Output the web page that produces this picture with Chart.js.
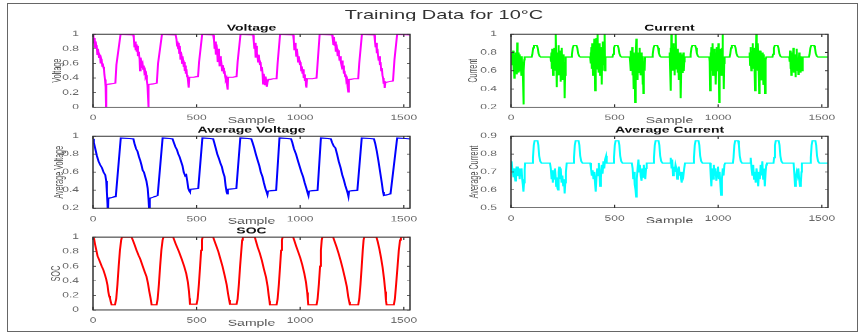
<!DOCTYPE html>
<html>
<head>
<meta charset="utf-8">
<script src="https://cdn.jsdelivr.net/npm/chart.js@4.4.0/dist/chart.umd.min.js"></script>
<style>
  html, body { margin: 0; padding: 0; background: #fff; }
  body { width: 867px; height: 334px; position: relative; overflow: hidden; font-family: "Liberation Sans", Arial, sans-serif; }
  #frame { position: absolute; left: 7px; top: 3px; width: 851px; height: 329px; border: 1.5px solid #666; box-sizing: border-box; }
  /* the source figure is squashed vertically, so draw tall and squash */
  #fig { position: absolute; left: 0; top: 0; width: 867px; height: 557px; transform: scaleY(0.6); transform-origin: 0 0; }
  #title { position: absolute; left: 0; width: 888px; top: 12px; text-align: center; font-size: 20px; line-height: 24px; color: #333; }
  .cell { position: absolute; }
</style>
</head>
<body>
<div id="frame"></div>
<div id="fig">
  <div id="title"></div>
</div>
<script>
const figureTitle = "Training Data for 10°C";
const xLabel = "Sample";
const xTicks = [0, 500, 1000, 1500];
const voltTicks = [0, 0.2, 0.4, 0.6, 0.8, 1];
const currTicks = [0.2, 0.4, 0.6, 0.8, 1];
const avgVoltTicks = [0.2, 0.4, 0.6, 0.8, 1];
const avgCurrTicks = [0.5, 0.6, 0.7, 0.8, 0.9];
const socTicks = [0, 0.2, 0.4, 0.6, 0.8, 1];

// Voltage (normalised)
const voltX = [
  0,2,5,8,10,13,15,18,21,24,26,29,31,34,37,40,42,45,47,50,53,55,58,61,63,
  64,85,108,113,133,194,
  197,200,203,206,209,211,214,217,219,222,225,227,230,233,236,239,242,245,248,251,254,257,260,263,266,267,
  269,290,308,314,333,399,
  403,406,408,411,414,416,419,422,424,427,430,432,435,438,440,443,446,448,451,454,456,459,461,463,
  465,485,507,512,527,580,
  584,587,590,593,596,599,602,605,608,611,614,617,620,623,626,629,632,635,638,641,644,647,650,
  652,675,693,698,712,773,
  776,779,782,785,788,791,794,797,800,803,806,809,812,815,818,821,824,827,830,833,836,839,842,846,
  850,870,886,891,903,966,
  969,972,975,978,981,984,987,990,993,996,999,1002,1005,1008,1011,1014,1017,1020,1023,1026,1028,1030,
  1033,1060,1079,1084,1094,1154,
  1157,1160,1163,1166,1169,1172,1175,1178,1181,1184,1187,1190,1193,1196,1199,1202,1205,1208,1211,1214,1217,1220,1223,1226,1229,1232,
  1235,1260,1280,1285,1298,1358,
  1361,1364,1367,1370,1373,1376,1379,1382,1385,1388,1391,1394,1397,1400,1403,1406,1408,
  1411,1430,1448,1455,1468,1530
];
const voltY = [
  1,0.97,0.88,0.95,0.82,0.9,0.85,0.84,0.72,0.8,0.75,0.68,0.72,0.7,0.6,0.66,0.64,0.56,0.6,0.55,0.52,0.45,0.38,0.28,0,
  0.31,0.32,0.33,0.58,1,0.99,
  0.95,0.82,0.9,0.78,0.86,0.76,0.84,0.7,0.76,0.72,0.66,0.5,0.68,0.62,0.58,0.6,0.52,0.57,0.48,0.5,0.42,0.44,0.36,0.3,0.12,0,
  0.31,0.32,0.33,0.6,1,0.99,
  0.93,0.84,0.9,0.8,0.88,0.74,0.84,0.66,0.76,0.72,0.6,0.7,0.64,0.55,0.62,0.5,0.57,0.46,0.52,0.42,0.44,0.35,0.4,0.27,
  0.41,0.41,0.42,0.62,1,0.99,
  0.92,0.8,0.9,0.72,0.86,0.78,0.62,0.8,0.74,0.56,0.7,0.66,0.6,0.5,0.58,0.54,0.46,0.5,0.42,0.38,0.4,0.3,0.24,
  0.41,0.41,0.42,0.62,1,0.99,
  0.9,0.8,0.88,0.68,0.84,0.74,0.7,0.62,0.72,0.64,0.58,0.62,0.5,0.55,0.48,0.32,0.46,0.4,0.3,0.42,0.36,0.28,0.34,0.38,
  0.38,0.39,0.39,0.6,1,0.99,
  0.92,0.78,0.88,0.82,0.7,0.8,0.72,0.62,0.7,0.64,0.58,0.62,0.5,0.56,0.46,0.52,0.4,0.45,0.36,0.4,0.3,0.27,
  0.39,0.39,0.4,0.6,1,0.99,
  0.94,0.86,0.96,0.84,0.9,0.76,0.86,0.8,0.7,0.78,0.72,0.64,0.7,0.62,0.58,0.64,0.52,0.57,0.46,0.5,0.42,0.45,0.36,0.38,0.28,0.21,
  0.38,0.39,0.39,0.6,1,0.99,
  0.9,0.82,0.88,0.74,0.8,0.7,0.64,0.7,0.58,0.62,0.5,0.54,0.44,0.4,0.32,0.36,0.26,
  0.34,0.35,0.36,0.65,1,0.99
];

// Current (normalised)
const currX = [
  0,2,4,6,8,10,12,14,16,18,20,22,24,26,28,30,32,34,36,38,40,42,44,46,48,50,52,54,56,58,60,62,64,66,
  100,103,107,111,125,129,133,138,144,
  191,193,195,197,199,201,203,205,207,209,211,213,215,217,219,221,223,225,227,229,231,233,235,237,239,241,243,245,247,249,251,253,255,257,259,261,263,265,
  291,294,298,302,316,320,324,329,335,
  382,384,386,388,390,392,394,396,398,400,402,404,406,408,410,412,414,416,418,420,422,424,426,428,430,432,434,436,438,440,442,444,446,448,450,452,454,456,
  490,493,497,501,515,519,523,528,534,
  573,575,577,579,581,583,585,587,589,591,593,595,597,599,601,603,605,607,609,611,613,615,617,619,621,623,625,627,629,631,633,635,637,639,641,643,645,647,
  681,684,688,692,706,710,714,719,725,
  764,766,768,770,772,774,776,778,780,782,784,786,788,790,792,794,796,798,800,802,804,806,808,810,812,814,816,818,820,822,824,826,828,830,832,834,836,838,
  864,867,871,875,889,893,897,902,908,
  957,959,961,963,965,967,969,971,973,975,977,979,981,983,985,987,989,991,993,995,997,999,1001,1003,1005,1007,1009,1011,1013,1015,1017,1019,1021,1023,1025,1027,1029,1031,
  1055,1058,1062,1066,1080,1084,1088,1093,1099,
  1150,1152,1154,1156,1158,1160,1162,1164,1166,1168,1170,1172,1174,1176,1178,1180,1182,1184,1186,1188,1190,1192,1194,1196,1198,1200,1202,1204,1206,1208,1210,1212,1214,1216,1218,1220,1222,1224,1226,1228,1230,1232,
  1262,1265,1269,1273,1287,1291,1295,1300,1306,
  1343,1345,1347,1349,1351,1353,1355,1357,1359,1361,1363,1365,1367,1369,1371,1373,1375,1377,1379,1381,1383,1385,1387,1389,1391,1393,1395,1397,1399,1401,1403,1405,1407,1409,
  1438,1441,1445,1449,1463,1467,1471,1476,1482,
  1530
];
const currY = [
  0.72,0.8,0.66,0.78,0.7,0.82,0.6,0.74,0.52,0.7,0.77,0.62,0.8,0.68,0.56,0.91,0.66,0.8,0.58,0.74,0.64,0.78,0.6,0.7,0.68,0.55,0.76,0.62,0.7,0.5,0.23,0.6,0.72,0.75,
  0.75,0.78,0.85,0.875,0.875,0.85,0.79,0.76,0.75,
  0.75,0.7,0.8,0.62,0.84,0.7,0.55,0.78,0.66,0.85,0.6,0.74,0.9,1,0.68,0.42,0.8,0.6,0.75,0.88,0.55,0.7,0.64,0.82,0.48,0.72,0.6,0.85,0.66,0.5,0.78,0.58,0.7,0.62,0.3,0.55,0.7,0.75,
  0.75,0.78,0.85,0.875,0.875,0.85,0.79,0.76,0.75,
  0.75,0.8,0.68,0.86,0.62,0.9,0.7,0.55,0.8,0.66,0.95,0.72,0.38,0.84,0.6,0.96,0.74,0.62,1,0.7,0.85,0.58,0.78,0.9,0.55,0.72,0.62,0.86,0.45,0.8,0.6,0.92,0.7,0.66,0.85,1,0.6,0.75,
  0.75,0.78,0.85,0.875,0.875,0.85,0.79,0.76,0.75,
  0.75,0.7,0.82,0.6,0.76,0.66,0.86,0.55,0.72,0.4,0.8,0.64,0.7,0.25,0.62,0.78,0.95,0.6,0.72,0.5,0.8,0.66,0.74,0.58,0.85,0.62,0.7,0.55,0.8,0.66,0.72,0.45,0.76,0.35,0.62,0.7,0.6,0.75,
  0.75,0.78,0.85,0.875,0.875,0.85,0.79,0.76,0.75,
  0.75,0.8,0.62,0.85,0.38,1,0.7,0.82,0.6,0.76,0.9,0.66,0.78,0.55,0.86,0.7,1,0.62,0.8,0.72,0.58,0.84,0.68,0.5,0.76,0.62,0.8,0.7,0.3,0.66,0.78,0.58,0.72,0.64,0.8,0.6,0.7,0.75,
  0.75,0.78,0.85,0.875,0.875,0.85,0.79,0.76,0.75,
  0.75,0.7,0.38,0.8,0.66,0.86,0.6,0.74,0.9,0.55,0.78,0.68,0.84,0.62,0.72,0.8,0.45,0.7,0.86,0.6,0.76,0.66,0.9,0.58,0.25,0.72,0.84,0.62,0.78,0.55,0.7,0.85,1,0.6,0.72,0.4,0.68,0.75,
  0.75,0.78,0.85,0.875,0.875,0.85,0.79,0.76,0.75,
  0.75,0.8,0.66,0.86,0.7,0.6,0.82,0.72,0.9,0.62,0.76,0.68,0.85,0.58,0.38,0.8,0.7,1,0.66,0.78,0.6,0.9,0.72,0.55,0.35,0.7,0.82,0.62,0.76,0.5,0.68,0.8,0.6,0.72,0.45,0.78,0.64,0.7,0.35,0.62,0.72,0.75,
  0.75,0.78,0.85,0.875,0.875,0.85,0.79,0.76,0.75,
  0.75,0.7,0.82,0.62,0.74,0.55,0.68,0.8,0.6,0.72,0.85,0.58,0.7,0.64,0.78,0.53,0.7,0.62,0.84,0.66,0.6,0.74,0.56,0.7,0.8,0.62,0.68,0.58,0.76,0.65,0.7,0.6,0.72,0.75,
  0.75,0.78,0.85,0.875,0.875,0.85,0.79,0.76,0.75,
  0.75
];

// Average voltage
const avgVoltX = [
  0,4,11,19,27,35,43,51,56,59,64,67,70,72, 74,110,134,195,
  200,208,215,222,228,234,240,246,252,258,264,268,271,273, 275,312,336,384,
  390,398,405,412,418,425,432,438,445,450,455,460,465,468, 471,508,528,580,
  585,592,600,608,615,622,628,635,640,645,648, 651,692,711,764,
  770,778,786,795,803,810,818,825,832,838,842, 845,884,900,956,
  962,970,980,990,998,1006,1014,1022,1030,1036,1040, 1043,1084,1100,1148,
  1154,1162,1170,1178,1186,1195,1203,1210,1218,1225,1230,1233, 1236,1276,1297,1356,
  1362,1370,1378,1386,1394,1400,1404, 1436,1468,1530
];
const avgVoltY = [
  0.97,0.93,0.86,0.78,0.72,0.68,0.65,0.6,0.58,0.57,0.5,0.38,0.25,0.12, 0.31,0.33,0.98,0.97,
  0.92,0.86,0.83,0.77,0.73,0.68,0.62,0.6,0.55,0.5,0.42,0.3,0.18,0.1, 0.31,0.34,0.98,0.97,
  0.93,0.88,0.85,0.8,0.77,0.72,0.67,0.6,0.56,0.57,0.5,0.42,0.39,0.38, 0.41,0.42,0.98,0.97,
  0.93,0.87,0.8,0.75,0.7,0.66,0.6,0.55,0.45,0.38,0.36, 0.41,0.42,0.98,0.97,
  0.93,0.87,0.8,0.73,0.67,0.6,0.55,0.48,0.42,0.38,0.35, 0.39,0.4,0.98,0.97,
  0.93,0.86,0.8,0.72,0.66,0.6,0.55,0.48,0.42,0.37,0.34, 0.39,0.4,0.98,0.97,
  0.93,0.89,0.87,0.8,0.72,0.65,0.57,0.52,0.45,0.4,0.36,0.33, 0.39,0.4,0.98,0.97,
  0.92,0.83,0.72,0.6,0.48,0.38,0.34, 0.36,0.98,0.97
];

// Average current
const avgCurrX = [
  0,3,6,9,12,15,18,21,24,27,30,33,36,39,42,45,48,51,54,57,60,63,66,68,
  103,106,110,114,128,132,136,141,147,
  188,192,196,199,202,205,208,212,215,218,221,224,227,230,233,236,240,244,248,252,256,259,262,265,269,
  301,304,308,312,326,330,334,339,345,
  382,386,390,394,398,402,406,409,412,416,420,424,427,430,434,438,442,446,450,454,459,462,
  494,497,501,505,519,523,527,532,538,
  583,587,590,594,597,601,604,607,611,615,619,622,626,630,634,638,641,645,648,652,655,
  687,690,694,698,712,716,720,725,731,
  768,771,775,778,782,786,790,794,798,802,806,810,814,818,821,824,828,832,836,840,
  880,883,887,891,905,909,913,918,924,
  961,964,967,971,975,979,983,987,991,995,999,1003,1007,1011,1014,1018,1022,1026,1030,1034,
  1071,1074,1078,1082,1096,1100,1104,1109,1115,
  1154,1157,1161,1165,1169,1173,1177,1181,1185,1189,1193,1197,1201,1205,1209,1213,1217,1221,1225,1229,1232,1235,
  1267,1270,1274,1278,1292,1296,1300,1305,1311,
  1364,1368,1371,1375,1379,1383,1387,1391,1395,1399,1402,1404,
  1444,1447,1451,1455,1469,1473,1477,1482,1488,
  1530
];
const avgCurrY = [
  0.74,0.76,0.72,0.7,0.67,0.72,0.68,0.65,0.7,0.73,0.68,0.73,0.7,0.72,0.66,0.71,0.68,0.72,0.66,0.63,0.59,0.64,0.71,0.75,
  0.75,0.78,0.85,0.875,0.875,0.85,0.79,0.76,0.75,
  0.75,0.72,0.66,0.71,0.64,0.7,0.66,0.72,0.68,0.62,0.67,0.61,0.6,0.7,0.73,0.66,0.72,0.64,0.68,0.62,0.66,0.58,0.64,0.7,0.75,
  0.75,0.78,0.85,0.875,0.875,0.85,0.79,0.76,0.75,
  0.75,0.72,0.68,0.71,0.66,0.7,0.63,0.59,0.66,0.72,0.68,0.75,0.7,0.62,0.67,0.74,0.69,0.76,0.72,0.77,0.79,0.75,
  0.75,0.78,0.85,0.875,0.875,0.85,0.79,0.76,0.75,
  0.75,0.72,0.66,0.7,0.63,0.6,0.56,0.66,0.72,0.77,0.7,0.74,0.68,0.65,0.72,0.67,0.74,0.69,0.66,0.72,0.75,
  0.75,0.78,0.85,0.875,0.875,0.85,0.79,0.76,0.75,
  0.75,0.78,0.72,0.77,0.68,0.73,0.7,0.74,0.72,0.66,0.7,0.73,0.68,0.7,0.66,0.64,0.7,0.68,0.72,0.75,
  0.75,0.78,0.85,0.875,0.875,0.85,0.79,0.76,0.75,
  0.75,0.68,0.62,0.72,0.66,0.74,0.68,0.72,0.65,0.7,0.73,0.66,0.7,0.62,0.57,0.66,0.72,0.68,0.74,0.75,
  0.75,0.78,0.85,0.875,0.875,0.85,0.79,0.76,0.75,
  0.75,0.78,0.72,0.68,0.74,0.66,0.7,0.64,0.72,0.68,0.62,0.7,0.66,0.74,0.68,0.76,0.66,0.72,0.62,0.7,0.74,0.75,
  0.75,0.78,0.85,0.875,0.875,0.85,0.79,0.76,0.75,
  0.75,0.68,0.62,0.67,0.7,0.68,0.72,0.66,0.62,0.64,0.7,0.75,
  0.75,0.78,0.85,0.875,0.875,0.85,0.79,0.76,0.75,
  0.75
];

// State of charge
const socX = [
  0,5,10,16,22,28,35,42,50,58,64,70,74,78,82,86,90, 106,112,118,124,130,136,140, 186,
  192,200,210,220,228,240,250,258,265,272,278,283, 307,312,318,324,330,336,340, 387,
  392,400,415,428,440,450,458,463,466,468, 500,505,511,517,522,526,529, 580,
  586,595,605,615,625,635,645,652,657,661, 693,698,704,710,716,720,723, 781,
  787,795,805,815,825,835,843,848,852,854, 886,891,897,903,908,912,915, 966,
  972,980,990,1000,1010,1020,1028,1034,1037,1039, 1079,1084,1090,1096,1100,1104,1107, 1159,
  1165,1175,1185,1195,1205,1215,1225,1232,1237,1240, 1280,1285,1291,1297,1302,1306,1309, 1368,
  1374,1382,1390,1398,1405,1411,1414,1417, 1452,1457,1463,1470,1476,1482,1486, 1530
];
const socY = [
  1,0.98,0.9,0.82,0.74,0.7,0.65,0.6,0.55,0.48,0.42,0.34,0.25,0.19,0.16,0.11,0.07, 0.07,0.15,0.35,0.6,0.82,0.96,1, 1,
  0.96,0.9,0.82,0.75,0.7,0.6,0.52,0.46,0.37,0.25,0.16,0.07, 0.07,0.15,0.35,0.6,0.82,0.96,1, 1,
  0.96,0.9,0.8,0.7,0.6,0.5,0.38,0.26,0.16,0.08, 0.08,0.15,0.35,0.6,0.82,0.96,1, 1,
  0.95,0.88,0.8,0.7,0.6,0.48,0.35,0.22,0.14,0.08, 0.08,0.15,0.35,0.6,0.82,0.96,1, 1,
  0.94,0.86,0.78,0.68,0.56,0.45,0.32,0.2,0.12,0.07, 0.07,0.15,0.35,0.6,0.82,0.96,1, 1,
  0.95,0.88,0.8,0.72,0.62,0.5,0.38,0.24,0.14,0.07, 0.07,0.15,0.35,0.6,0.82,0.96,1, 1,
  0.95,0.87,0.78,0.68,0.57,0.45,0.32,0.18,0.11,0.07, 0.07,0.15,0.35,0.6,0.82,0.96,1, 1,
  0.94,0.84,0.72,0.58,0.42,0.25,0.13,0.07, 0.07,0.15,0.35,0.6,0.82,0.96,1, 1
];

const SY = 0.6;          // vertical squash of the whole figure
const PLOT_W = 317;      // plot box width in px
const Y_AXIS_W = 60, X_AXIS_H = 45, PAD_T = 30, PAD_R = 20;
const FONT = "'Liberation Sans', Arial, sans-serif";

const panels = [
  { title: "Voltage", ylabel: "Voltage", xs: voltX, ys: voltY, yTicks: voltTicks, color: "#ff00ff", left: 93, top: 34, h: 73, gap: 35 },
  { title: "Current", ylabel: "Current", xs: currX, ys: currY, yTicks: currTicks, color: "#00ff00", left: 511, top: 34, h: 73, gap: 37 },
  { title: "Average Voltage", ylabel: "Average Voltage", xs: avgVoltX, ys: avgVoltY, yTicks: avgVoltTicks, color: "#0000ff", left: 93, top: 136, h: 72, gap: 33 },
  { title: "Average Current", ylabel: "Average Current", xs: avgCurrX, ys: avgCurrY, yTicks: avgCurrTicks, color: "#00ffff", left: 511, top: 136, h: 71.5, gap: 36 },
  { title: "SOC", ylabel: "SOC", xs: socX, ys: socY, yTicks: socTicks, color: "#ff0000", left: 93, top: 237, h: 72.5, gap: 36 }
];

// MATLAB-ish box, inward ticks, titles and axis labels
const matlabAxes = {
  id: "matlabAxes",
  afterDraw(chart, args, o) {
    const { ctx, chartArea: a, scales } = chart;
    ctx.save();
    ctx.strokeStyle = "#333";
    ctx.lineWidth = 1.5;
    ctx.strokeRect(a.left, a.top, a.right - a.left, a.bottom - a.top);
    ctx.lineWidth = 1.2;
    ctx.beginPath();
    scales.x.ticks.forEach(t => {
      const px = scales.x.getPixelForValue(t.value);
      ctx.moveTo(px, a.bottom); ctx.lineTo(px, a.bottom - 5);
      ctx.moveTo(px, a.top); ctx.lineTo(px, a.top + 5);
    });
    scales.y.ticks.forEach(t => {
      const py = scales.y.getPixelForValue(t.value);
      ctx.moveTo(a.left, py); ctx.lineTo(a.left + 3, py);
      ctx.moveTo(a.right, py); ctx.lineTo(a.right - 3, py);
    });
    ctx.stroke();

    const cx = (a.left + a.right) / 2;
    ctx.textAlign = "center";
    ctx.textBaseline = "middle";
    ctx.fillStyle = "#111";
    ctx.font = "bold 14px " + FONT;
    ctx.fillText(o.title, cx, a.top - 10);
    ctx.fillStyle = "#555";
    ctx.font = "14px " + FONT;
    ctx.fillText(xLabel, cx, a.bottom + 22);
    ctx.translate(a.left - o.gap, (a.top + a.bottom) / 2);
    ctx.rotate(-Math.PI / 2);
    ctx.font = "12px " + FONT;
    ctx.fillText(o.ylabel, 0, 0);
    ctx.restore();
  }
};

document.getElementById("title").textContent = figureTitle;
const fig = document.getElementById("fig");

panels.forEach(p => {
  const hU = p.h / SY;
  const cell = document.createElement("div");
  cell.className = "cell";
  cell.style.left = (p.left - Y_AXIS_W) + "px";
  cell.style.top = (p.top / SY - PAD_T) + "px";
  cell.style.width = (Y_AXIS_W + PLOT_W + PAD_R) + "px";
  cell.style.height = (PAD_T + hU + X_AXIS_H) + "px";
  const canvas = document.createElement("canvas");
  cell.appendChild(canvas);
  fig.appendChild(cell);

  new Chart(canvas, {
    type: "line",
    data: {
      datasets: [{
        data: p.xs.map((x, i) => ({ x: x, y: p.ys[i] })),
        borderColor: p.color,
        borderWidth: 2,
        pointRadius: 0,
        tension: 0,
        fill: false
      }]
    },
    options: {
      responsive: true,
      maintainAspectRatio: false,
      animation: false,
      events: [],
      layout: { padding: { left: 0, right: PAD_R, top: PAD_T, bottom: 0 } },
      plugins: {
        legend: { display: false },
        tooltip: { enabled: false },
        matlabAxes: { title: p.title, ylabel: p.ylabel, gap: p.gap }
      },
      scales: {
        x: {
          type: "linear",
          min: 0,
          max: 1530,
          afterBuildTicks: s => { s.ticks = xTicks.map(v => ({ value: v })); },
          afterFit: s => { s.height = X_AXIS_H; },
          grid: { display: false },
          border: { display: false },
          ticks: { color: "#666", font: { size: 12, family: FONT }, padding: 3, maxRotation: 0, autoSkip: false, callback: v => String(v) }
        },
        y: {
          min: p.yTicks[0],
          max: p.yTicks[p.yTicks.length - 1],
          afterBuildTicks: s => { s.ticks = p.yTicks.map(v => ({ value: v })); },
          afterFit: s => { s.width = Y_AXIS_W; },
          grid: { display: false },
          border: { display: false },
          ticks: { color: "#666", font: { size: 12, family: FONT }, padding: 6, autoSkip: false, callback: v => String(v) }
        }
      }
    },
    plugins: [matlabAxes]
  });
});
</script>
</body>
</html>
